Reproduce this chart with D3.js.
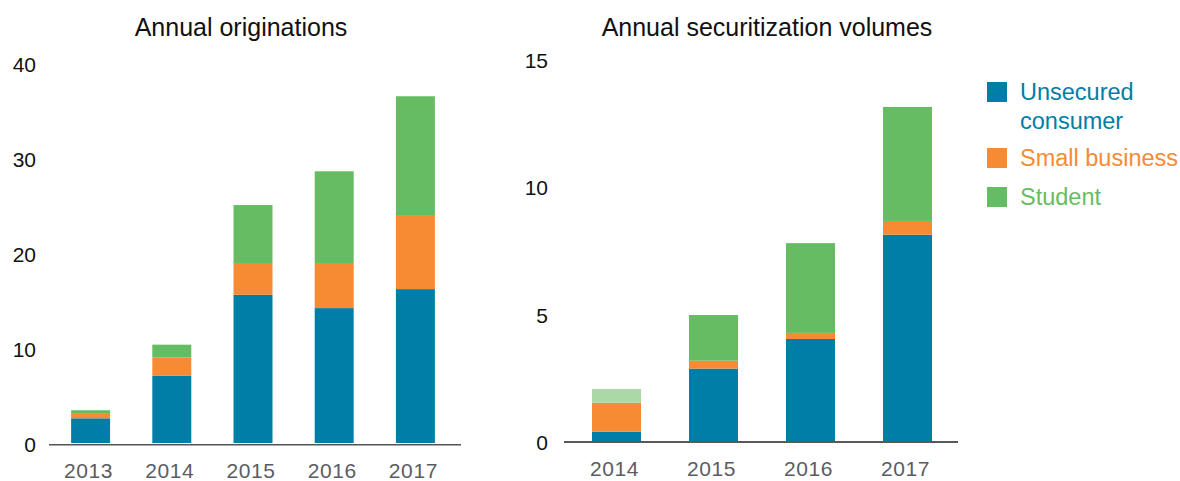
<!DOCTYPE html>
<meta charset="utf-8">
<script src="https://d3js.org/d3.v7.min.js"></script>
<style>
body { margin: 0; background: #fff; }
text { font-family: "Liberation Sans", Arial, sans-serif; }
.title { font-size: 25px; fill: #111; }
.tick-label { font-size: 21px; fill: #111; }
.year-label { font-size: 21px; fill: #5b5c63; letter-spacing: 0.6px; }
.legend-label { font-size: 23.5px; }
</style>
<body>
<script>
// series keys + colours
var seriesKeys = ["Unsecured consumer", "Small business", "Student"];
var colors = ["#007ea7", "#f68b33", "#66bc62"];
var partialColor = "#acd8a7";   // lighter student bar, securitization 2014

// Annual originations
var origYears = ["2013", "2014", "2015", "2016", "2017"];
var origUnsecured = [2.6, 7.1, 15.6, 14.2, 16.2];
var origSmallBiz = [0.55, 1.9, 3.35, 4.75, 7.8];
var origStudent = [0.3, 1.35, 6.1, 9.65, 12.5];
var origTicks = [0, 10, 20, 30, 40];

// Annual securitization volumes
var secYears = ["2014", "2015", "2016", "2017"];
var secUnsecured = [0.36, 2.84, 4.0, 8.09];
var secSmallBiz = [1.14, 0.31, 0.24, 0.54];
var secStudent = [0.54, 1.79, 3.52, 4.47];
var secTicks = [0, 5, 10, 15];
var partialYear = "2014";

var width = 1180,
    height = 481;

var svg = d3.select("body").append("svg")
    .attr("width", width)
    .attr("height", height);

function toRows(years, a, b, c) {
  return years.map(function(y, i) {
    var r = {year: y};
    r[seriesKeys[0]] = a[i];
    r[seriesKeys[1]] = b[i];
    r[seriesKeys[2]] = c[i];
    return r;
  });
}

function drawPanel(p) {
  var g = svg.append("g");

  var x = d3.scaleBand()
      .domain(p.years)
      .range(p.xRange)
      .paddingInner(p.pad)
      .paddingOuter(p.pad / 2);

  var y = d3.scaleLinear()
      .domain([0, p.max])
      .range(p.yRange);

  var stacked = d3.stack().keys(seriesKeys)(p.rows);

  g.selectAll("g.layer")
      .data(stacked)
    .enter().append("g")
      .attr("class", "layer")
      .each(function(layer, li) {
        d3.select(this).selectAll("rect")
            .data(layer)
          .enter().append("rect")
            .attr("x", d => x(d.data.year))
            .attr("width", x.bandwidth())
            .attr("y", d => y(d[1]))
            .attr("height", d => y(d[0]) - y(d[1]))
            .attr("fill", d => (p.partial && li == 2 && d.data.year == p.partial) ? partialColor : colors[li]);
      });

  // baseline
  g.append("line")
      .attr("x1", p.axisX[0])
      .attr("x2", p.axisX[1])
      .attr("y1", y(0) + p.axisGap)
      .attr("y2", y(0) + p.axisGap)
      .attr("stroke", p.axisColor)
      .attr("stroke-width", 1.6);

  // y tick labels
  g.selectAll("text.tick-label")
      .data(p.ticks)
    .enter().append("text")
      .attr("class", "tick-label")
      .attr("x", p.tickX)
      .attr("y", d => y(d) + 1.5)
      .attr("dy", "0.36em")
      .attr("text-anchor", "end")
      .text(d => d);

  // year labels
  g.selectAll("text.year-label")
      .data(p.years)
    .enter().append("text")
      .attr("class", "year-label")
      .attr("x", d => x(d) + x.bandwidth() / 2 - 2)
      .attr("y", p.yearY)
      .attr("text-anchor", "middle")
      .text(d => d);

  g.append("text")
      .attr("class", "title")
      .attr("x", p.titleX)
      .attr("y", 36)
      .attr("text-anchor", "middle")
      .text(p.title);
}

drawPanel({
  title: "Annual originations",
  titleX: 241,
  years: origYears,
  rows: toRows(origYears, origUnsecured, origSmallBiz, origStudent),
  max: 40,
  ticks: origTicks,
  xRange: [50, 456],
  pad: 0.52,
  yRange: [443, 63],
  axisX: [49, 461],
  axisGap: 1.8,
  axisColor: "#555",
  tickX: 36,
  yearY: 478
});

drawPanel({
  title: "Annual securitization volumes",
  titleX: 767,
  years: secYears,
  rows: toRows(secYears, secUnsecured, secSmallBiz, secStudent),
  max: 15,
  ticks: secTicks,
  xRange: [568, 956],
  pad: 0.495,
  yRange: [441, 58.5],
  axisX: [564, 958],
  axisGap: 1,
  axisColor: "#222",
  tickX: 548,
  yearY: 476,
  partial: partialYear
});

// legend
var legendLines = [["Unsecured", "consumer"], ["Small business"], ["Student"]];
var legendTop = [82, 148, 187];

var legend = svg.append("g")
    .selectAll("g")
    .data(seriesKeys)
  .enter().append("g")
    .attr("transform", (d, i) => "translate(987," + legendTop[i] + ")");

legend.append("rect")
    .attr("width", 20)
    .attr("height", 20)
    .attr("fill", (d, i) => colors[i]);

legend.each(function(d, i) {
  var t = d3.select(this).append("text")
      .attr("class", "legend-label")
      .attr("fill", colors[i])
      .attr("x", 33)
      .attr("y", 18);
  legendLines[i].forEach(function(line, j) {
    t.append("tspan")
        .attr("x", 33)
        .attr("dy", j == 0 ? 0 : 28.5)
        .text(line);
  });
});
</script>
</body>
</html>
